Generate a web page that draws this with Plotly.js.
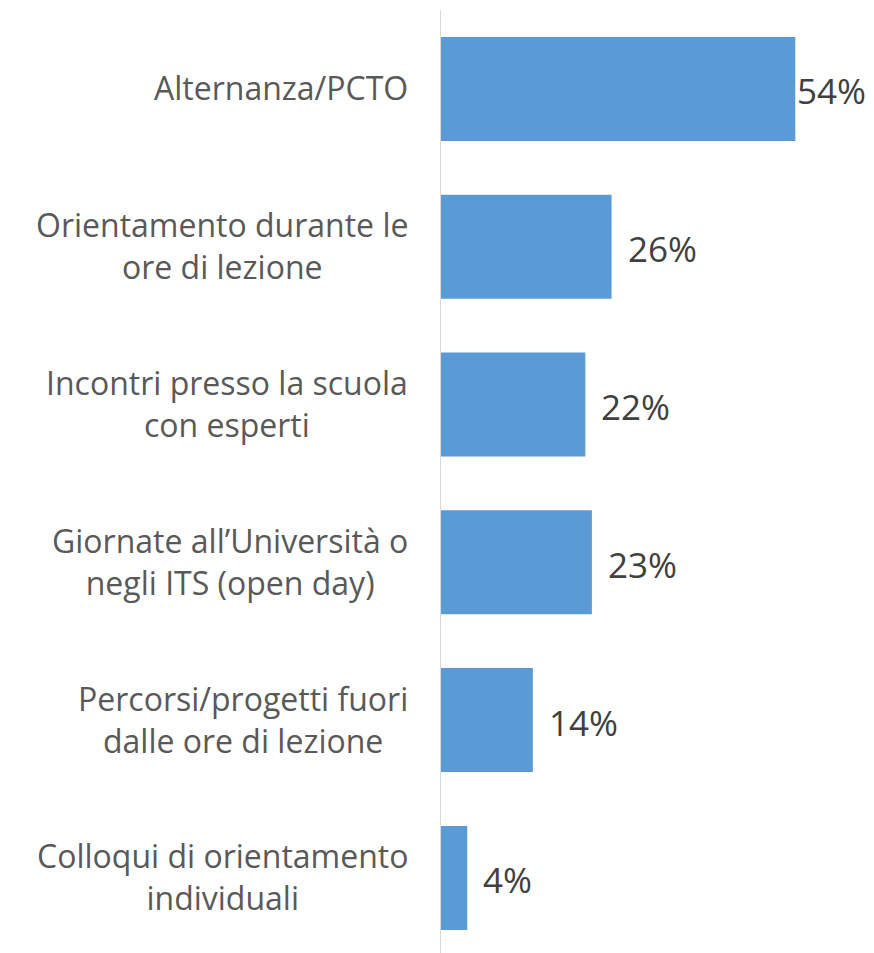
<!DOCTYPE html>
<html>
<head>
<meta charset="utf-8">
<script src="https://cdn.plot.ly/plotly-3.0.1.min.js"></script>
<style>html,body{margin:0;padding:0;background:#fff;}</style>
</head>
<body>
<div id="chart" style="width:874px;height:953px;"></div>
<script>
const categories = [
  "Alternanza/PCTO",
  "Orientamento durante le<br>ore di lezione",
  "Incontri presso la scuola<br>con esperti",
  "Giornate all\u2019Universit\u00e0 o<br>negli ITS (open day)",
  "Percorsi/progetti fuori<br>dalle ore di lezione",
  "Colloqui di orientamento<br>individuali"
];
const values = [54, 26, 22, 23, 14, 4];
const valueLabels = values.map(v => v + "%");
const labelShift = [0, 14, 14, 14, 14, 14];

const FONT = "'Open Sans', Roboto, sans-serif";

const trace = {
  type: "bar",
  orientation: "h",
  y: categories,
  x: values,
  marker: {color: "#5b9bd5"},
  hoverinfo: "none"
};

const valueAnn = values.map((v, i) => ({
  x: v, y: categories[i], xref: "x", yref: "y",
  text: valueLabels[i], showarrow: false,
  xanchor: "left", yanchor: "middle", xshift: labelShift[i], yshift: -2,
  font: {family: FONT, size: 35, color: "#404040"}
}));

const catAnn = categories.map((c, i) => ({
  x: 0, y: c, xref: "paper", yref: "y",
  text: c, showarrow: false, align: "center",
  xanchor: "right", yanchor: "middle", xshift: -31, yshift: 1,
  font: {family: FONT, size: 32, color: "#595959"}
}));

const layout = {
  width: 874, height: 953,
  margin: {l: 441, r: 0, t: 10, b: 0},
  paper_bgcolor: "#fff", plot_bgcolor: "#fff",
  bargap: 0.341,
  showlegend: false,
  xaxis: {range: [0, 66], visible: false, fixedrange: true},
  yaxis: {
    type: "category",
    range: [5.476, -0.5],
    showline: true, linecolor: "#d9d9d9", linewidth: 1.5,
    showgrid: false, zeroline: false,
    ticks: "", showticklabels: false
  },
  annotations: catAnn.concat(valueAnn)
};

Plotly.newPlot("chart", [trace], layout, {displayModeBar: false, staticPlot: true});
</script>
</body>
</html>
